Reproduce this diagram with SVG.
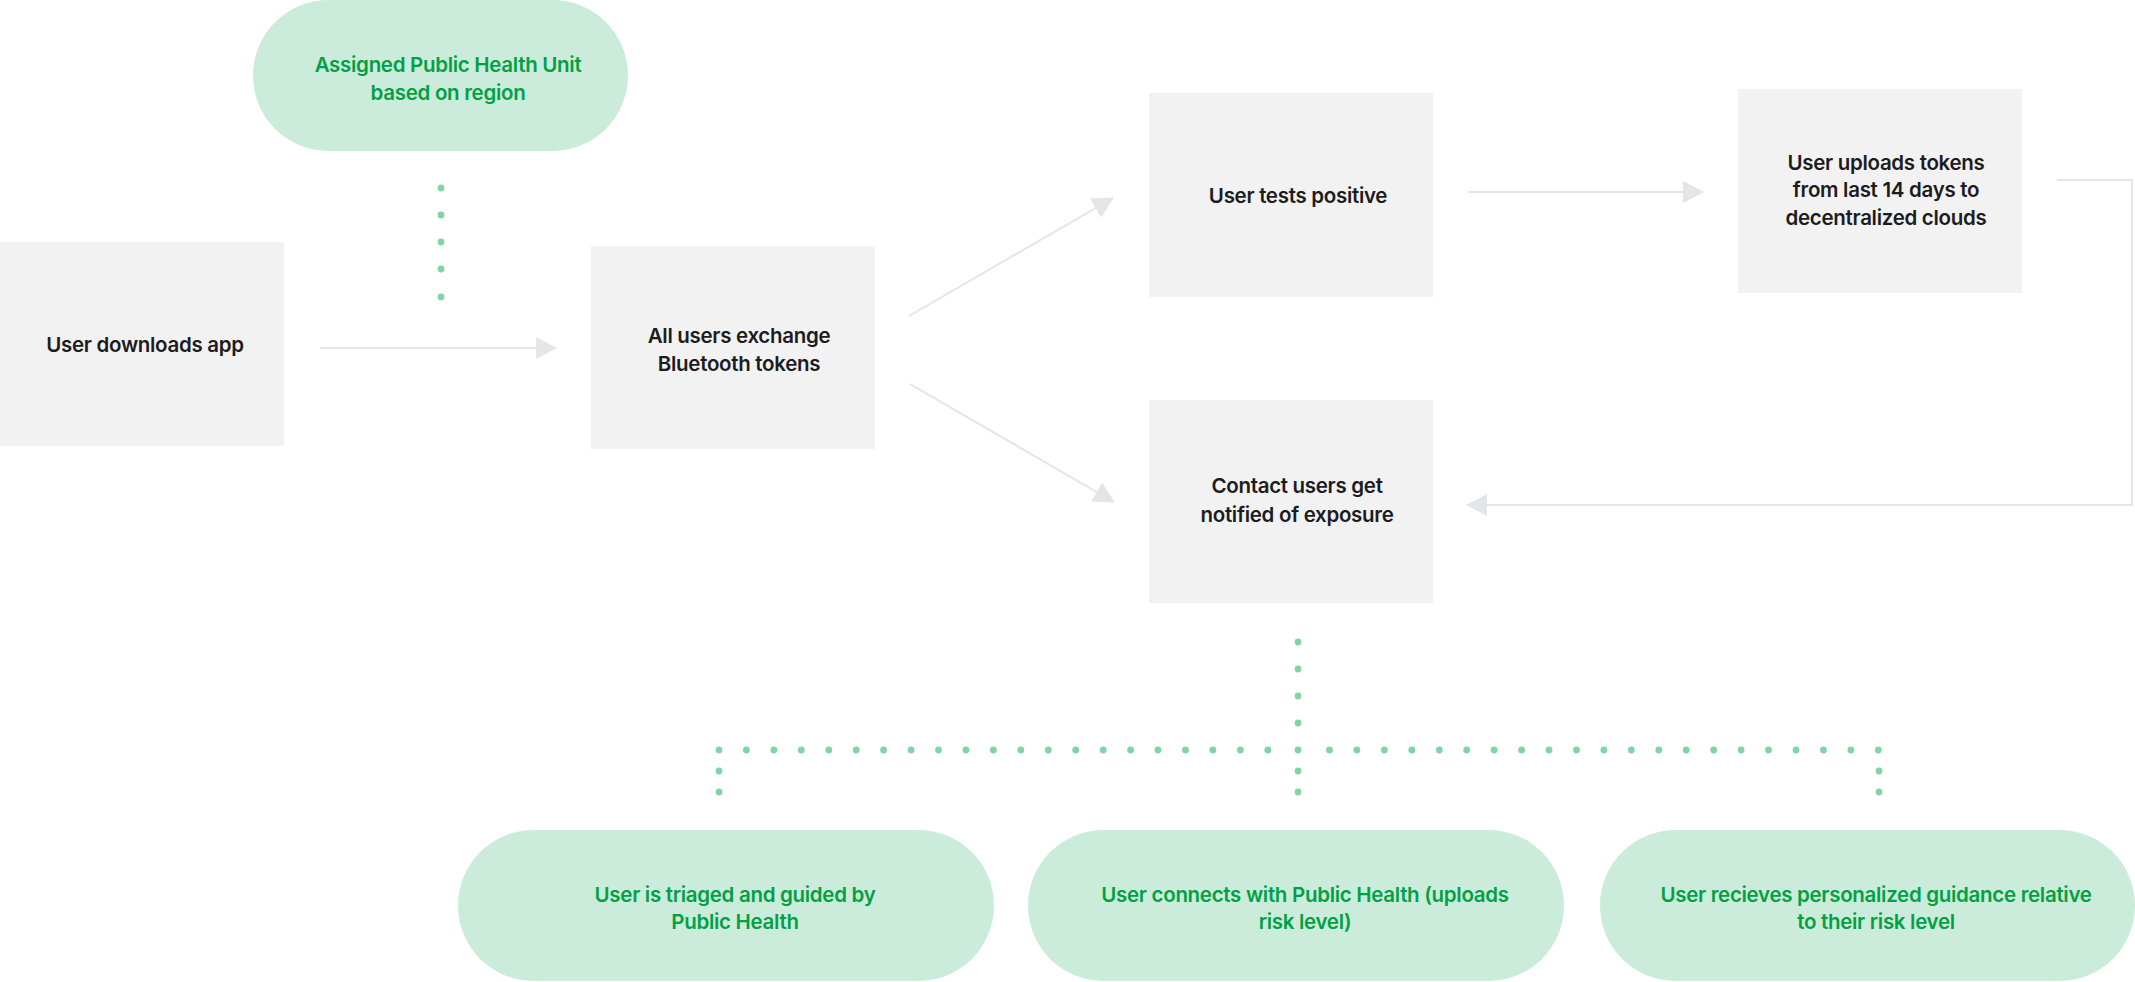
<svg xmlns="http://www.w3.org/2000/svg" width="2135" height="982" viewBox="0 0 2135 982">
<style>
.box{fill:#F2F2F2}
.pill{fill:#CCECDB}
.t{font-family:Inter,"Noto Sans","Liberation Sans",sans-serif;font-weight:600;font-size:20.5px;letter-spacing:-0.3px;text-anchor:middle;fill:#1C1C1E}
.g{fill:#00A145}
.conn{stroke:#E4E5E8;stroke-width:2;fill:none}
.dot{fill:#80D4A5}
</style>
<defs>
<marker id="ah" markerUnits="userSpaceOnUse" markerWidth="22" markerHeight="22" viewBox="0 0 21 22" refX="20" refY="11" orient="auto">
<path d="M0,0 L21,11 L0,22 z" fill="#E4E5E8"/>
</marker>
<circle id="d" r="3.4" class="dot"/>
</defs>
<rect width="2135" height="982" fill="#FFFFFF"/>

<g id="connectors">
<path class="conn" d="M320,348 L556,348" marker-end="url(#ah)"/>
<path class="conn" d="M909,316 L1113,198" marker-end="url(#ah)"/>
<path class="conn" d="M910,384 L1114,502" marker-end="url(#ah)"/>
<path class="conn" d="M1468,192 L1703,192" marker-end="url(#ah)"/>
<path class="conn" d="M2057,180 L2132,180 L2132,505 L1467,505" marker-end="url(#ah)"/>
<g id="dots-top">
<use href="#d" x="441" y="188"/><use href="#d" x="441" y="215"/><use href="#d" x="441" y="242"/><use href="#d" x="441" y="269"/><use href="#d" x="441" y="297"/>
</g>
<g id="dots-bottom">
<use href="#d" x="1298" y="642"/><use href="#d" x="1298" y="669"/><use href="#d" x="1298" y="696"/><use href="#d" x="1298" y="723"/><use href="#d" x="1298" y="750"/>
<use href="#d" x="1298" y="771"/><use href="#d" x="1298" y="792"/>
<use href="#d" x="719" y="771"/><use href="#d" x="719" y="792"/>
<use href="#d" x="1879" y="771"/><use href="#d" x="1879" y="792"/>
<use href="#d" x="719" y="750"/><use href="#d" x="746.4" y="750"/><use href="#d" x="773.9" y="750"/><use href="#d" x="801.3" y="750"/><use href="#d" x="828.8" y="750"/><use href="#d" x="856.2" y="750"/><use href="#d" x="883.6" y="750"/><use href="#d" x="911.1" y="750"/><use href="#d" x="938.5" y="750"/><use href="#d" x="966" y="750"/><use href="#d" x="993.4" y="750"/><use href="#d" x="1020.8" y="750"/><use href="#d" x="1048.3" y="750"/><use href="#d" x="1075.7" y="750"/><use href="#d" x="1103.2" y="750"/><use href="#d" x="1130.6" y="750"/><use href="#d" x="1158" y="750"/><use href="#d" x="1185.5" y="750"/><use href="#d" x="1212.9" y="750"/><use href="#d" x="1240.4" y="750"/><use href="#d" x="1267.8" y="750"/>
<use href="#d" x="1329.5" y="750"/><use href="#d" x="1356.9" y="750"/><use href="#d" x="1384.4" y="750"/><use href="#d" x="1411.8" y="750"/><use href="#d" x="1439.3" y="750"/><use href="#d" x="1466.7" y="750"/><use href="#d" x="1494.1" y="750"/><use href="#d" x="1521.6" y="750"/><use href="#d" x="1549" y="750"/><use href="#d" x="1576.5" y="750"/><use href="#d" x="1603.9" y="750"/><use href="#d" x="1631.3" y="750"/><use href="#d" x="1658.8" y="750"/><use href="#d" x="1686.2" y="750"/><use href="#d" x="1713.7" y="750"/><use href="#d" x="1741.1" y="750"/><use href="#d" x="1768.5" y="750"/><use href="#d" x="1796" y="750"/><use href="#d" x="1823.4" y="750"/><use href="#d" x="1850.9" y="750"/><use href="#d" x="1878.3" y="750"/>
</g>
</g>

<g id="n-region">
<rect class="pill" x="253" y="0" width="375" height="151" rx="75.5"/>
<text class="t g" x="448" y="72">Assigned Public Health Unit</text>
<text class="t g" x="448" y="100">based on region</text>
</g>

<g id="n-download">
<rect class="box" x="0" y="242" width="284" height="204"/>
<text class="t" x="145" y="352">User downloads app</text>
</g>

<g id="n-exchange">
<rect class="box" x="591" y="246" width="284" height="203"/>
<text class="t" x="739" y="343">All users exchange</text>
<text class="t" x="739" y="371">Bluetooth tokens</text>
</g>

<g id="n-positive">
<rect class="box" x="1149" y="93" width="284" height="204"/>
<text class="t" x="1298" y="203">User tests positive</text>
</g>

<g id="n-upload">
<rect class="box" x="1738" y="89" width="284" height="204"/>
<text class="t" x="1886" y="170">User uploads tokens</text>
<text class="t" x="1886" y="197">from last 14 days to</text>
<text class="t" x="1886" y="225">decentralized clouds</text>
</g>

<g id="n-contact">
<rect class="box" x="1149" y="400" width="284" height="203"/>
<text class="t" x="1297" y="493">Contact users get</text>
<text class="t" x="1297" y="522">notified of exposure</text>
</g>

<g id="n-triaged">
<rect class="pill" x="458" y="830" width="536" height="151" rx="75.5"/>
<text class="t g" x="735" y="902">User is triaged and guided by</text>
<text class="t g" x="735" y="929">Public Health</text>
</g>

<g id="n-connects">
<rect class="pill" x="1028" y="830" width="536" height="151" rx="75.5"/>
<text class="t g" x="1305" y="902">User connects with Public Health (uploads</text>
<text class="t g" x="1305" y="929">risk level)</text>
</g>

<g id="n-guidance">
<rect class="pill" x="1600" y="830" width="535" height="151" rx="75.5"/>
<text class="t g" x="1876" y="902">User recieves personalized guidance relative</text>
<text class="t g" x="1876" y="929">to their risk level</text>
</g>
</svg>
